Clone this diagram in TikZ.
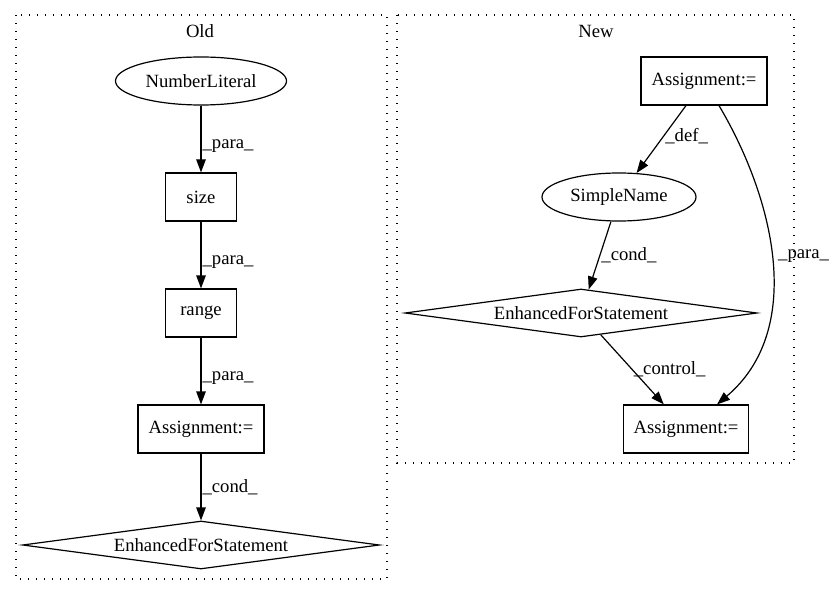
\documentclass[tikz,border=0pt]{standalone}
\usepackage{fontspec}
\setmainfont{Liberation Serif}
\usetikzlibrary{shapes.geometric,arrows.meta}
\begin{document}
\begin{tikzpicture}[x=1pt,y=-1pt,
  every node/.style={font=\fontsize{18.67}{22}\selectfont},
  box/.style={draw,line width=1.2pt,rectangle,inner sep=0pt,minimum height=48pt},
  ell/.style={draw,line width=1.2pt,ellipse,inner sep=0pt,minimum height=48pt},
  dia/.style={draw,line width=1.2pt,diamond,aspect=7.4,inner sep=0pt,minimum height=48pt},
  cluster/.style={draw,line width=1.3pt,dash pattern=on 1.3pt off 6.7pt},
  edge/.style={draw,line width=1.2pt,-{Triangle[length=13pt,width=9.5pt]}},
  lab/.style={inner sep=1pt}]
\useasboundingbox (0,0) rectangle (832,596);
% clusters
\draw[cluster] (16,15) rectangle (387,579);
\draw[cluster] (397,15) rectangle (794,463);
\node (tOld) at (200,31) {Old};
\node (tNew) at (596,31) {New};
% Old
\node[ell,minimum width=171pt] (nl) at (201,81) {NumberLiteral};
\node[box,minimum width=71pt] (size) at (201,197) {size};
\node[box,minimum width=71pt] (range) at (201,313) {range};
\node[box,minimum width=126pt] (asg1) at (201,429) {Assignment:=};
\node[dia,minimum width=357pt] (efs1) at (201,545) {EnhancedForStatement};
\draw[edge] (nl) -- node[lab,anchor=west,pos=0.6] {\_para\_} (size);
\draw[edge] (size) -- node[lab,anchor=west,pos=0.6] {\_para\_} (range);
\draw[edge] (range) -- node[lab,anchor=west,pos=0.6] {\_para\_} (asg1);
\draw[edge] (asg1) -- node[lab,anchor=west,pos=0.5] {\_cond\_} (efs1);
% New
\node[box,minimum width=126pt] (asg2) at (704,81) {Assignment:=};
\node[ell,minimum width=154pt] (sn) at (619,197) {SimpleName};
\node[dia,minimum width=352pt] (efs2) at (581,313) {EnhancedForStatement};
\node[box,minimum width=125pt] (asg3) at (686,429) {Assignment:=};
\draw[edge] (asg2) -- node[lab,anchor=west,pos=0.45] {\_def\_} (sn);
\draw[edge] (sn) -- node[lab,anchor=west,pos=0.5] {\_cond\_} (efs2);
\draw[edge] (efs2) -- node[lab,anchor=west,pos=0.5] {\_control\_} (asg3);
\draw[edge] ([xshift=15pt]asg2.south) .. controls (775,200) and (805,330) .. ([xshift=31pt]asg3.north);
\node[lab,anchor=west] (lpara) at (777,256) {\_para\_};
\end{tikzpicture}
\end{document}
